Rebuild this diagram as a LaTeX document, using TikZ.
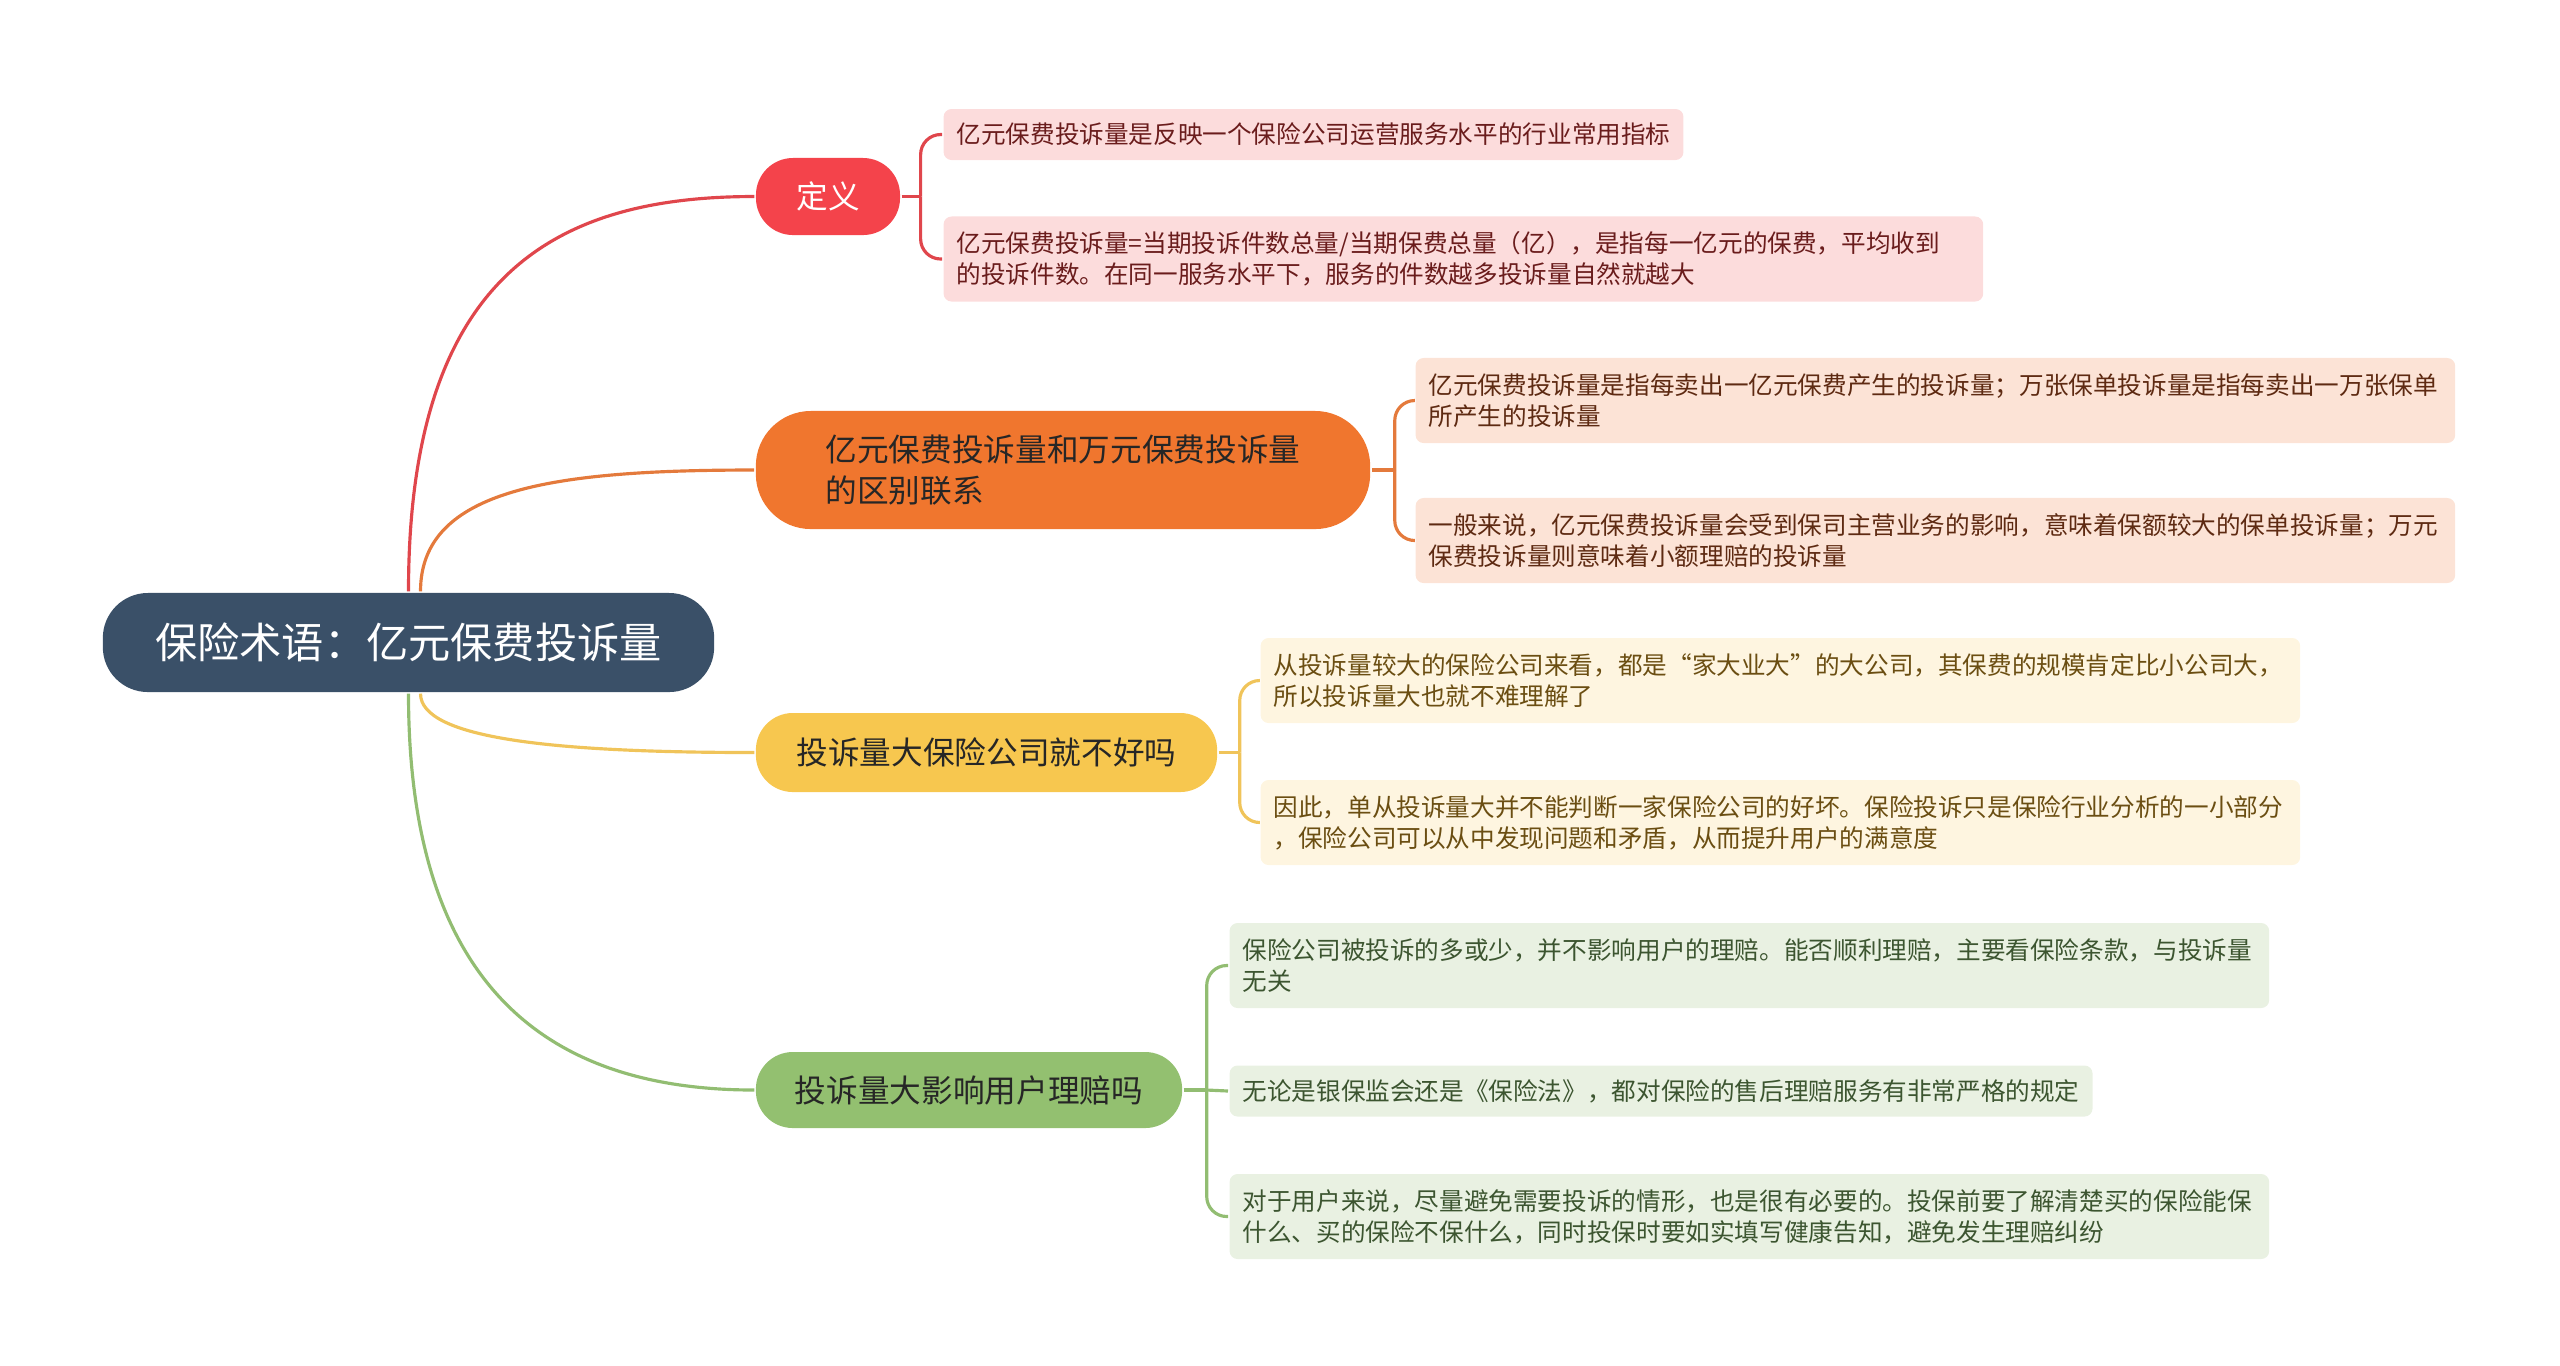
\documentclass[tikz,border=0pt]{standalone}
\usepackage{fontspec}
\setmainfont{Noto Sans CJK SC}
\usetikzlibrary{calc}

\definecolor{rootblue}{HTML}{3A5068}
\definecolor{defred}{HTML}{F4434B}
\definecolor{defline}{HTML}{E0464C}
\definecolor{defleaf}{HTML}{FCDCDC}
\definecolor{deftext}{HTML}{6A1C1C}
\definecolor{cmporange}{HTML}{F0762E}
\definecolor{cmpline}{HTML}{E47A3C}
\definecolor{cmpleaf}{HTML}{FCE3D6}
\definecolor{cmptext}{HTML}{5E2A12}
\definecolor{badyellow}{HTML}{F7C74F}
\definecolor{badline}{HTML}{F0C45A}
\definecolor{badleaf}{HTML}{FEF5E0}
\definecolor{badtext}{HTML}{6B4E12}
\definecolor{claimgreen}{HTML}{93C070}
\definecolor{claimline}{HTML}{92BD72}
\definecolor{claimleaf}{HTML}{E9F1E2}
\definecolor{claimtext}{HTML}{3C5530}

\newcommand{\rootfont}{\fontsize{12pt}{14pt}\selectfont}
\newcommand{\branchfont}{\fontsize{9pt}{11.6pt}\selectfont}
\newcommand{\leaffont}{\fontsize{7pt}{8.8pt}\selectfont}

\begin{document}
\begin{tikzpicture}[x = 0.01cm, y = -0.01cm, line width = 0.9pt,
		root node/.style = {rectangle, fill = rootblue, text = white, rounded corners = 0.45cm, minimum width = 6.11cm, minimum height = 0.99cm, font = \rootfont},
		branch node/.style = {rectangle, rounded corners = 0.37cm, minimum height = 0.77cm, font = \branchfont},
		leaf node/.style = {rectangle, rounded corners = 0.08cm, anchor = west, align = left, inner xsep = 0.13cm, minimum height = 0.51cm, font = \leaffont},
		long leaf/.style = {leaf node, text width = 10.13cm, minimum height = 0.85cm},
		bracket/.style = {rounded corners = 0.2cm}]
	\useasboundingbox (0,0) rectangle (2560,1365);

	\node[root node] (root) at (408.5,642.5) {保险术语：亿元保费投诉量};

	\node[branch node, fill = defred, text = white, minimum width = 1.44cm] (def) at (828,196.5) {定义};
	\node[branch node, fill = cmporange, text = black!85, align = left, minimum width = 6.14cm, minimum height = 1.18cm, rounded corners = 0.55cm] (cmp) at (1063,470) {亿元保费投诉量和万元保费投诉量\\的区别联系};
	\node[branch node, fill = badyellow, text = black!85, minimum width = 4.61cm, minimum height = 0.79cm] (bad) at (986.5,752.5) {投诉量大保险公司就不好吗};
	\node[branch node, fill = claimgreen, text = black!85, minimum width = 4.26cm, minimum height = 0.76cm] (claim) at (969,1090) {投诉量大影响用户理赔吗};

	\node[leaf node, fill = defleaf, text = deftext] (def1) at (942,134.5) {亿元保费投诉量是反映一个保险公司运营服务水平的行业常用指标};
	\node[long leaf, fill = defleaf, text = deftext] (def2) at (942,259) {亿元保费投诉量=当期投诉件数总量/当期保费总量（亿），是指每一亿元的保费，平均收到\\的投诉件数。在同一服务水平下，服务的件数越多投诉量自然就越大};

	\node[long leaf, fill = cmpleaf, text = cmptext] (cmp1) at (1414,400.5) {亿元保费投诉量是指每卖出一亿元保费产生的投诉量；万张保单投诉量是指每卖出一万张保单\\所产生的投诉量};
	\node[long leaf, fill = cmpleaf, text = cmptext] (cmp2) at (1414,540.5) {一般来说，亿元保费投诉量会受到保司主营业务的影响，意味着保额较大的保单投诉量；万元\\保费投诉量则意味着小额理赔的投诉量};

	\node[long leaf, fill = badleaf, text = badtext] (bad1) at (1259,680.5) {从投诉量较大的保险公司来看，都是“家大业大”的大公司，其保费的规模肯定比小公司大，\\所以投诉量大也就不难理解了};
	\node[long leaf, fill = badleaf, text = badtext] (bad2) at (1259,822.5) {因此，单从投诉量大并不能判断一家保险公司的好坏。保险投诉只是保险行业分析的一小部分\\，保险公司可以从中发现问题和矛盾，从而提升用户的满意度};

	\node[long leaf, fill = claimleaf, text = claimtext] (claim1) at (1228,965.5) {保险公司被投诉的多或少，并不影响用户的理赔。能否顺利理赔，主要看保险条款，与投诉量\\无关};
	\node[leaf node, fill = claimleaf, text = claimtext] (claim2) at (1228,1091) {无论是银保监会还是《保险法》，都对保险的售后理赔服务有非常严格的规定};
	\node[long leaf, fill = claimleaf, text = claimtext] (claim3) at (1228,1216.5) {对于用户来说，尽量避免需要投诉的情形，也是很有必要的。投保前要了解清楚买的保险能保\\什么、买的保险不保什么，同时投保时要如实填写健康告知，避免发生理赔纠纷};

	% root to branches
	\draw[defline] ([xshift = 0mm]root.north) .. controls +(0,-320) and +(-196,0) .. (def.west);
	\draw[cmpline] ([xshift = 0.12cm]root.north) .. controls +(0,-103) and +(-200,0) .. (cmp.west);
	\draw[badline] ([xshift = 0.12cm]root.south) .. controls +(0,45) and +(-200,0) .. (bad.west);
	\draw[claimline] ([xshift = 0mm]root.south) .. controls +(0,300) and +(-200,0) .. (claim.west);

	% branches to leaves
	\draw[defline] (def.east) -- ++(19,0) coordinate (defj);
	\draw[defline, bracket] (defj) |- (def1.west);
	\draw[defline, bracket] (defj) |- (def2.west);

	\draw[cmpline] (cmp.east) -- ++(23,0) coordinate (cmpj);
	\draw[cmpline, bracket] (cmpj) |- (cmp1.west);
	\draw[cmpline, bracket] (cmpj) |- (cmp2.west);

	\draw[badline] (bad.east) -- ++(21,0) coordinate (badj);
	\draw[badline, bracket] (badj) |- (bad1.west);
	\draw[badline, bracket] (badj) |- (bad2.west);

	\draw[claimline] (claim.east) -- ++(23,0) coordinate (claimj);
	\draw[claimline, bracket] (claimj) |- (claim1.west);
	\draw[claimline] (claimj) -- (claim2.west);
	\draw[claimline, bracket] (claimj) |- (claim3.west);
\end{tikzpicture}
\end{document}
